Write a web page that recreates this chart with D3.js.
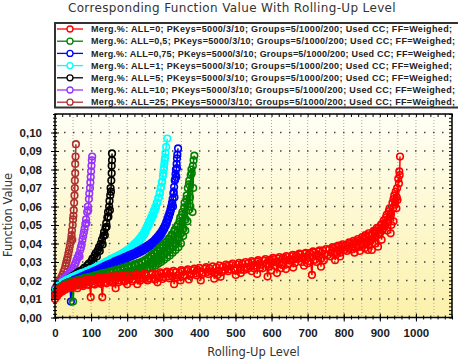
<!DOCTYPE html>
<html>
<head>
<meta charset="utf-8">
<script src="https://cdn.jsdelivr.net/npm/d3@7"></script>
<style>
  body { margin: 0; background: #fff; }
  svg { display: block; }
</style>
</head>
<body>
<div id="chart"></div>
<script>

// ---- data ----
var seriesNames = [
  "Merg.%: ALL=0; PKeys=5000/3/10; Groups=5/1000/200; Used CC; FF=Weighed;",
  "Merg.%: ALL=0,5; PKeys=5000/3/10; Groups=5/1000/200; Used CC; FF=Weighed;",
  "Merg.%: ALL=0,75; PKeys=5000/3/10; Groups=5/1000/200; Used CC; FF=Weighed;",
  "Merg.%: ALL=1; PKeys=5000/3/10; Groups=5/1000/200; Used CC; FF=Weighed;",
  "Merg.%: ALL=5; PKeys=5000/3/10; Groups=5/1000/200; Used CC; FF=Weighed;",
  "Merg.%: ALL=10; PKeys=5000/3/10; Groups=5/1000/200; Used CC; FF=Weighed;",
  "Merg.%: ALL=25; PKeys=5000/3/10; Groups=5/1000/200; Used CC; FF=Weighed;"
];
var seriesColors = ["#ff0000", "#008000", "#0000ff", "#00ffff", "#000000", "#9933ff", "#b03030"];

// ALL=0 : main band + outliers
var all0 = [[0,0.0100],[3,0.0125],[6,0.0115],[9,0.0140],[12,0.0130],[16,0.0155],[20,0.0140],[24,0.0165],
  [28,0.0150],[31,0.0172],[34,0.0167],[38,0.0158],[42,0.0180],[46,0.0162],[48,0.0185],[52,0.0170],[56,0.0188],
  [60,0.0172],[62,0.0158],[66,0.0192],[70,0.0175],[75,0.0195],[80,0.0178],[85,0.0198],[90,0.0180],[95,0.0200],
  [99,0.0110],[103,0.0205],[108,0.0185],[113,0.0207],[118,0.0188],[123,0.0210],[128,0.0190],[131,0.0110],
  [135,0.0212],[140,0.0192],[146,0.0214],[152,0.0195],[158,0.0216],[163,0.0198],[168,0.0158],[173,0.0218],
  [178,0.0200],[184,0.0220],[190,0.0202],[196,0.0222],[200,0.0180],[205,0.0205],[211,0.0224],[217,0.0206],
  [223,0.0226],[228,0.0180],[233,0.0208],[239,0.0228],[245,0.0210],[251,0.0230],[256,0.0200],[261,0.0212],
  [267,0.0232],[273,0.0214],[279,0.0234],[284,0.0190],[289,0.0216],[295,0.0237],[301,0.0219],[307,0.0240],
  [313,0.0222],[319,0.0242],[325,0.0224],[330,0.0180],[335,0.0245],[341,0.0227],[348,0.0200],[353,0.0248],
  [359,0.0230],[365,0.0251],[371,0.0206],[377,0.0235],[383,0.0255],[389,0.0238],[395,0.0258],[404,0.0200],
  [410,0.0243],[416,0.0263],[422,0.0246],[428,0.0266],[434,0.0249],[441,0.0210],[447,0.0270],[450,0.0230],
  [453,0.0253],[459,0.0220],[465,0.0274],[471,0.0257],[477,0.0278],[483,0.0260],[489,0.0282],[495,0.0264],
  [501,0.0230],[507,0.0286],[513,0.0268],[519,0.0290],[524,0.0257],[530,0.0273],[536,0.0294],[542,0.0277],
  [548,0.0298],[554,0.0281],[560,0.0302],[566,0.0285],[575,0.0266],[580,0.0307],[586,0.0290],[589,0.0221],
  [595,0.0311],[601,0.0294],[607,0.0315],[613,0.0298],[619,0.0319],[626,0.0266],[632,0.0323],[638,0.0305],
  [644,0.0327],[650,0.0309],[656,0.0331],[662,0.0313],[668,0.0335],[674,0.0317],[680,0.0340],[686,0.0322],
  [692,0.0344],[700,0.0293],[706,0.0348],[712,0.0230],[718,0.0352],[724,0.0334],[730,0.0357],[737,0.0275],
  [742,0.0362],[748,0.0344],[756,0.0338],[760,0.0368],[766,0.0350],[772,0.0374],[776,0.0310],[782,0.0380],
  [788,0.0362],[794,0.0386],[802,0.0365],[806,0.0392],[812,0.0374],[818,0.0400],[824,0.0382],[830,0.0408],
  [836,0.0390],[842,0.0416],[848,0.0398],[854,0.0425],[858,0.0374],[862,0.0434],[867,0.0365],[871,0.0444],
  [876,0.0420],[878,0.0365],[880,0.0456],[885,0.0430],[889,0.0470],[895,0.0383],[897,0.0486],[901,0.0460],
  [905,0.0505],[909,0.0480],[913,0.0510],[917,0.0540],[921,0.0515],[925,0.0575],[929,0.0545],[932,0.0500],
  [935,0.0620],[937,0.0590],[940,0.0660],[943,0.0630],[946,0.0590],[948,0.0700],[949,0.0635],[951,0.0750],
  [953,0.0725],[954,0.0790],[955,0.0770],[956,0.0870]];
var all0b = [[2,0.0118],[5,0.0135],[10,0.0150],[14,0.0142],[18,0.0162],[22,0.0150],[26,0.0172],[36,0.0178],
  [44,0.0170],[54,0.0192],[64,0.0178],[72,0.0198],[78,0.0170],[88,0.0204],[93,0.0176],[101,0.0208],[110,0.0178],
  [120,0.0214],[126,0.0182],[138,0.0218],[143,0.0185],[155,0.0222],[160,0.0188],[170,0.0224],[176,0.0190],
  [187,0.0227],[193,0.0194],[203,0.0230],[214,0.0196],[226,0.0233],[236,0.0198],[248,0.0236],[258,0.0203],
  [270,0.0240],[276,0.0205],[292,0.0244],[298,0.0208],[310,0.0248],[316,0.0212],[328,0.0252],[338,0.0216],
  [350,0.0256],[356,0.0222],[368,0.0260],[374,0.0225],[386,0.0264],[392,0.0228],[400,0.0268],[407,0.0232],
  [419,0.0272],[425,0.0235],[437,0.0276],[444,0.0240],[456,0.0281],[462,0.0245],[474,0.0286],[480,0.0250],
  [492,0.0291],[498,0.0254],[510,0.0296],[515,0.0240],[516,0.0258],[528,0.0300],[533,0.0262],[545,0.0250],
  [545,0.0305],[551,0.0266],[560,0.0235],[563,0.0310],[569,0.0270],[583,0.0316],[592,0.0274],[600,0.0255],
  [604,0.0322],[610,0.0279],[615,0.0240],[622,0.0327],[629,0.0284],[640,0.0262],[641,0.0332],[647,0.0288],
  [659,0.0338],[660,0.0270],[665,0.0294],[677,0.0345],[683,0.0300],[690,0.0280],[695,0.0350],[703,0.0306],
  [715,0.0357],[721,0.0312],[725,0.0300],[733,0.0363],[739,0.0320],[745,0.0310],[751,0.0370],[763,0.0330],
  [769,0.0380],[779,0.0340],[785,0.0388],[790,0.0330],[791,0.0350],[797,0.0396],[809,0.0360],[815,0.0406],
  [821,0.0368],[827,0.0415],[830,0.0350],[833,0.0376],[839,0.0424],[845,0.0360],[845,0.0385],[851,0.0434],
  [856,0.0395],[860,0.0445],[865,0.0405],[869,0.0455],[870,0.0390],[874,0.0412],[883,0.0468],[887,0.0440],
  [888,0.0400],[892,0.0485],[899,0.0448],[903,0.0500],[905,0.0420],[907,0.0470],[911,0.0525],[915,0.0495],
  [919,0.0555],[920,0.0470],[923,0.0530],[927,0.0590],[930,0.0455],[931,0.0560],[938,0.0520],[938,0.0640],
  [942,0.0610],[944,0.0680],[947,0.0650]];

// ALL=0,5
var all05 = [[0,0.0115],[4,0.0138],[8,0.0130],[12,0.0152],[16,0.0145],[20,0.0165],[25,0.0158],[30,0.0176],
  [35,0.0168],[40,0.0185],[45,0.0175],[50,0.0086],[54,0.0192],[58,0.0182],[63,0.0198],[68,0.0188],[73,0.0204],
  [78,0.0194],[83,0.0210],[88,0.0198],[93,0.0214],[98,0.0202],[103,0.0218],[108,0.0206],[113,0.0224],
  [118,0.0210],[123,0.0228],[128,0.0214],[133,0.0232],[138,0.0218],[143,0.0238],[148,0.0222],[153,0.0242],
  [158,0.0226],[163,0.0248],[168,0.0232],[173,0.0253],[178,0.0236],[183,0.0258],[188,0.0240],[193,0.0264],
  [198,0.0244],[203,0.0270],[208,0.0250],[213,0.0276],[218,0.0248],[223,0.0282],[228,0.0258],[233,0.0288],
  [238,0.0262],[243,0.0296],[247,0.0270],[251,0.0304],[256,0.0272],[260,0.0318],[264,0.0285],[268,0.0330],
  [272,0.0290],[276,0.0345],[280,0.0300],[284,0.0360],[288,0.0310],[292,0.0375],[296,0.0325],[300,0.0390],
  [304,0.0340],[308,0.0410],[312,0.0355],[316,0.0428],[320,0.0370],[324,0.0450],[328,0.0385],[332,0.0475],
  [336,0.0400],[340,0.0500],[344,0.0430],[347,0.0540],[350,0.0455],[353,0.0570],[356,0.0480],[359,0.0620],
  [362,0.0530],[365,0.0660],[368,0.0700],[370,0.0580],[372,0.0740],[374,0.0650],[376,0.0770],[378,0.0800],
  [381,0.0570],[382,0.0820],[384,0.0850],[386,0.0875]];
var all05b = [[2,0.0125],[6,0.0142],[10,0.0156],[14,0.0140],[18,0.0170],[23,0.0162],[28,0.0180],[33,0.0172],
  [38,0.0190],[43,0.0180],[48,0.0195],[56,0.0175],[61,0.0202],[66,0.0180],[71,0.0208],[76,0.0186],[81,0.0214],
  [86,0.0190],[91,0.0218],[96,0.0194],[101,0.0222],[106,0.0198],[111,0.0228],[116,0.0202],[121,0.0233],
  [126,0.0205],[131,0.0238],[136,0.0210],[141,0.0243],[146,0.0212],[151,0.0248],[156,0.0216],[161,0.0254],
  [166,0.0220],[171,0.0258],[176,0.0225],[181,0.0264],[186,0.0228],[191,0.0270],[196,0.0232],[201,0.0276],
  [206,0.0236],[211,0.0282],[216,0.0240],[221,0.0288],[226,0.0245],[231,0.0295],[236,0.0250],[241,0.0302],
  [245,0.0255],[249,0.0310],[254,0.0260],[258,0.0322],[262,0.0265],[266,0.0335],[270,0.0275],[274,0.0348],
  [278,0.0280],[282,0.0362],[286,0.0290],[290,0.0378],[294,0.0300],[298,0.0392],[302,0.0312],[306,0.0405],
  [310,0.0325],[314,0.0420],[318,0.0335],[322,0.0440],[326,0.0350],[330,0.0465],[334,0.0365],[338,0.0490],
  [342,0.0380],[345,0.0520],[349,0.0400],[352,0.0555],[355,0.0440],[358,0.0595],[361,0.0470],[364,0.0640],
  [367,0.0520],[371,0.0720],[375,0.0600],[379,0.0780],[383,0.0700]];

// ALL=0,75
var all075 = [[0,0.0125],[5,0.0140],[10,0.0155],[15,0.0165],[20,0.0170],[26,0.0180],[32,0.0186],[38,0.0192],
  [44,0.0086],[47,0.0198],[53,0.0205],[60,0.0210],[67,0.0216],[74,0.0222],[81,0.0228],[88,0.0234],[95,0.0240],
  [102,0.0246],[109,0.0252],[116,0.0258],[123,0.0265],[130,0.0271],[137,0.0278],[144,0.0284],[151,0.0290],
  [158,0.0296],[165,0.0303],[172,0.0309],[179,0.0315],[186,0.0320],[193,0.0326],[200,0.0332],[207,0.0338],
  [214,0.0344],[221,0.0350],[228,0.0357],[235,0.0364],[242,0.0372],[249,0.0380],[256,0.0388],[262,0.0396],
  [268,0.0405],[274,0.0415],[279,0.0425],[284,0.0436],[289,0.0448],[293,0.0458],[297,0.0470],[301,0.0485],
  [305,0.0500],[308,0.0515],[311,0.0530],[314,0.0548],[317,0.0565],[320,0.0585],[322,0.0600],[324,0.0618],
  [326,0.0640],[327,0.0600],[328,0.0670],[330,0.0705],[331,0.0650],[332,0.0740],[334,0.0775],[335,0.0800],
  [336,0.0760],[337,0.0830],[338,0.0860],[339,0.0880],[341,0.0914]];
var all075b = [[3,0.0123],[8,0.0138],[13,0.0148],[18,0.0160],[23,0.0164],[29,0.0172],[35,0.0178],[41,0.0184],
  [50,0.0190],[57,0.0196],[64,0.0202],[71,0.0208],[78,0.0214],[85,0.0220],[92,0.0226],[99,0.0232],[106,0.0238],
  [113,0.0244],[120,0.0250],[127,0.0257],[134,0.0263],[141,0.0270],[148,0.0276],[155,0.0282],[162,0.0288],
  [169,0.0295],[176,0.0301],[183,0.0306],[190,0.0312],[197,0.0318],[204,0.0324],[211,0.0330],[218,0.0336],
  [225,0.0342],[232,0.0349],[239,0.0356],[246,0.0364],[253,0.0372],[259,0.0380],[265,0.0388],[271,0.0398],
  [277,0.0408],[282,0.0418],[287,0.0430],[291,0.0440],[295,0.0452],[299,0.0466],[303,0.0480],[307,0.0496],
  [310,0.0510],[313,0.0528],[316,0.0544],[319,0.0563],[321,0.0580],[323,0.0598],[325,0.0618],[329,0.0678],
  [333,0.0748],[338,0.0808]];

// ALL=1
var all1 = [[0,0.0130],[5,0.0150],[10,0.0160],[15,0.0172],[20,0.0178],[26,0.0188],[32,0.0192],[38,0.0200],
  [44,0.0205],[50,0.0210],[57,0.0218],[64,0.0222],[71,0.0228],[78,0.0233],[85,0.0238],[92,0.0244],[99,0.0250],
  [106,0.0255],[113,0.0262],[120,0.0268],[127,0.0276],[134,0.0282],[141,0.0290],[148,0.0297],[155,0.0305],
  [162,0.0312],[169,0.0318],[176,0.0325],[183,0.0333],[190,0.0340],[197,0.0348],[204,0.0358],[210,0.0368],
  [216,0.0378],[222,0.0390],[228,0.0400],[233,0.0412],[238,0.0424],[243,0.0438],[248,0.0452],[252,0.0468],
  [256,0.0485],[260,0.0500],[264,0.0518],[268,0.0535],[272,0.0552],[276,0.0575],[280,0.0595],[284,0.0620],
  [288,0.0648],[291,0.0675],[294,0.0705],[297,0.0735],[299,0.0765],[301,0.0800],[303,0.0830],[305,0.0865],
  [308,0.0922],[311,0.0967]];
var all1b = [[3,0.0150],[8,0.0165],[13,0.0178],[18,0.0186],[23,0.0193],[29,0.0200],[35,0.0206],[41,0.0212],
  [47,0.0218],[54,0.0224],[61,0.0230],[68,0.0236],[75,0.0241],[82,0.0246],[89,0.0252],[96,0.0258],[103,0.0263],
  [110,0.0270],[117,0.0276],[124,0.0283],[131,0.0290],[138,0.0298],[145,0.0305],[152,0.0313],[159,0.0320],
  [166,0.0326],[173,0.0333],[180,0.0340],[187,0.0348],[194,0.0356],[200,0.0364],[207,0.0374],[213,0.0384],
  [219,0.0395],[225,0.0406],[231,0.0418],[236,0.0430],[241,0.0444],[246,0.0458],[250,0.0472],[254,0.0488],
  [258,0.0505],[262,0.0522],[266,0.0540],[270,0.0558],[274,0.0578],[278,0.0598],[282,0.0620],[286,0.0645],
  [290,0.0672],[293,0.0700],[296,0.0730],[300,0.0780],[302,0.0810],[304,0.0850],[306,0.0890]];

// ALL=5
var all5 = [[0,0.0140],[4,0.0155],[8,0.0165],[12,0.0172],[16,0.0180],[20,0.0186],[25,0.0192],[30,0.0198],
  [35,0.0205],[40,0.0212],[45,0.0218],[50,0.0225],[55,0.0230],[60,0.0238],[65,0.0245],[70,0.0252],[74,0.0240],
  [78,0.0262],[82,0.0270],[86,0.0258],[90,0.0282],[94,0.0292],[98,0.0275],[101,0.0305],[104,0.0318],
  [107,0.0300],[110,0.0335],[113,0.0348],[116,0.0330],[119,0.0365],[122,0.0380],[124,0.0360],[127,0.0400],
  [130,0.0420],[132,0.0395],[134,0.0440],[136,0.0462],[138,0.0445],[140,0.0485],[142,0.0510],[143,0.0490],
  [145,0.0540],[147,0.0570],[148,0.0545],[150,0.0600],[151,0.0630],[152,0.0580],[153,0.0660],[154,0.0700],
  [155,0.0680],[156,0.0740],[157,0.0780],[157,0.0820],[158,0.0850],[158,0.0887]];

// ALL=10
var all10 = [[0,0.0150],[4,0.0165],[8,0.0175],[12,0.0185],[16,0.0192],[20,0.0200],[25,0.0210],[30,0.0220],
  [34,0.0228],[38,0.0236],[42,0.0246],[46,0.0256],[50,0.0268],[54,0.0282],[57,0.0295],[60,0.0310],[63,0.0325],
  [66,0.0340],[68,0.0330],[70,0.0365],[72,0.0380],[74,0.0395],[76,0.0420],[78,0.0440],[80,0.0460],[82,0.0480],
  [84,0.0505],[86,0.0530],[87,0.0510],[89,0.0570],[91,0.0600],[92,0.0580],[94,0.0640],[95,0.0670],[97,0.0700],
  [98,0.0730],[99,0.0760],[100,0.0790],[101,0.0820],[102,0.0850],[103,0.0870]];

// ALL=25
var all25 = [[0,0.0155],[3,0.0165],[6,0.0175],[9,0.0185],[12,0.0195],[15,0.0205],[18,0.0218],[21,0.0232],
  [24,0.0248],[27,0.0262],[29,0.0280],[31,0.0295],[33,0.0310],[35,0.0325],[37,0.0345],[39,0.0365],[41,0.0385],
  [43,0.0405],[45,0.0425],[46,0.0445],[47,0.0470],[48,0.0420],[49,0.0500],[50,0.0530],[51,0.0550],[52,0.0580],
  [53,0.0620],[54,0.0660],[55,0.0700],[55,0.0740],[56,0.0780],[56,0.0830],[57,0.0870],[58,0.0937]];

function byX(a, b) {
  return a.concat(b).sort(function(p, q) { return p[0] - q[0]; });
}
var seriesData = [byX(all0, all0b), byX(all05, all05b), byX(all075, all075b), byX(all1, all1b),
  all5, all10, all25];

var xMajorTicks = d3.range(0, 1001, 100);
var yMajorTicks = d3.range(0, 11).map(function(i) { return i / 100; });

// ---- layout ----
var width = 458, height = 362,
    plot = {left: 55, right: 452, top: 114, bottom: 317.5};

var xScale = d3.scaleLinear().domain([0, 1100]).range([plot.left, plot.right]);
var yScale = d3.scaleLinear().domain([0, 0.11]).range([plot.bottom, plot.top]);

var svg = d3.select("#chart").append("svg")
    .attr("width", width)
    .attr("height", height);

var grad = svg.append("defs").append("linearGradient")
    .attr("id", "bg").attr("x1", 0).attr("y1", 0).attr("x2", 0).attr("y2", 1);
grad.append("stop").attr("offset", "0%").attr("stop-color", "#fffff6");
grad.append("stop").attr("offset", "100%").attr("stop-color", "#fbf1aa");

svg.append("rect")
    .attr("x", plot.left).attr("y", plot.top)
    .attr("width", plot.right - plot.left).attr("height", plot.bottom - plot.top)
    .attr("fill", "url(#bg)");

// grid
svg.append("g").selectAll("line")
    .data(d3.range(50, 1100, 50))
  .enter().append("line")
    .attr("x1", xScale).attr("x2", xScale)
    .attr("y1", plot.top).attr("y2", plot.bottom)
    .attr("stroke", "#a8a8a8").attr("stroke-width", 1)
    .attr("stroke-dasharray", "1,2");

svg.append("g").selectAll("line")
    .data(yMajorTicks.slice(1))
  .enter().append("line")
    .attr("x1", plot.left).attr("x2", plot.right)
    .attr("y1", yScale).attr("y2", yScale)
    .attr("stroke", "#444").attr("stroke-width", 1.5)
    .attr("stroke-dasharray", "1.5,7.5");

// series, last one underneath
var line = d3.line()
    .x(function(d) { return xScale(d[0]); })
    .y(function(d) { return yScale(d[1]); });

d3.range(seriesData.length).reverse().forEach(function(i) {
  var g = svg.append("g");
  g.append("path")
      .datum(seriesData[i])
      .attr("d", line)
      .attr("fill", "none")
      .attr("stroke", seriesColors[i])
      .attr("stroke-width", 1.5);
  g.selectAll("circle")
      .data(seriesData[i])
    .enter().append("circle")
      .attr("cx", function(d) { return xScale(d[0]); })
      .attr("cy", function(d) { return yScale(d[1]); })
      .attr("r", 3.3)
      .attr("fill", "none")
      .attr("stroke", seriesColors[i])
      .attr("stroke-width", 1.6);
});

// axes
var tickFont = "'Liberation Sans', Arial, sans-serif";
var minorY = d3.range(0, 56).map(function(i) { return i * 0.002; });

var xAxis = svg.append("g")
    .attr("transform", "translate(0," + plot.bottom + ")")
    .call(d3.axisBottom(xScale).tickValues(xMajorTicks).tickSize(4).tickPadding(7)
      .tickFormat(d3.format("d")));
xAxis.selectAll(".tick line").attr("y1", -4);
var xMinor = svg.append("g")
    .attr("transform", "translate(0," + plot.bottom + ")")
    .call(d3.axisBottom(xScale).tickValues(d3.range(0, 1101, 20)).tickSize(2).tickFormat(""));
xMinor.selectAll(".tick line").attr("y1", -2);

var yAxis = svg.append("g")
    .attr("transform", "translate(" + plot.left + ",0)")
    .call(d3.axisLeft(yScale).tickValues(yMajorTicks).tickSize(4).tickPadding(9)
      .tickFormat(function(d) { return d3.format(".2f")(d).replace(".", ","); }));
yAxis.selectAll(".tick line").attr("x1", 4);
var yMinor = svg.append("g")
    .attr("transform", "translate(" + plot.left + ",0)")
    .call(d3.axisLeft(yScale).tickValues(minorY).tickSize(2).tickFormat(""));
yMinor.selectAll(".tick line").attr("x1", 2);

var topAxis = svg.append("g")
    .attr("transform", "translate(0," + plot.top + ")")
    .call(d3.axisTop(xScale).tickValues(d3.range(0, 1101, 20)).tickSize(-3).tickFormat(""));
var rightAxis = svg.append("g")
    .attr("transform", "translate(" + plot.right + ",0)")
    .call(d3.axisRight(yScale).tickValues(minorY).tickSize(-3).tickFormat(""));

[xAxis, xMinor, yAxis, yMinor, topAxis, rightAxis].forEach(function(a) {
  a.select(".domain").remove();
  a.selectAll(".tick line").attr("stroke", "#000");
  a.selectAll("text")
      .attr("font-family", tickFont)
      .attr("font-size", 11.5)
      .attr("font-weight", "bold")
      .attr("fill", "#1a1a1a");
});

svg.append("rect")
    .attr("x", plot.left).attr("y", plot.top)
    .attr("width", plot.right - plot.left).attr("height", plot.bottom - plot.top)
    .attr("fill", "none").attr("stroke", "#000").attr("stroke-width", 1.5);

// titles
svg.append("text")
    .attr("x", 232).attr("y", 12)
    .attr("text-anchor", "middle")
    .attr("font-family", "'DejaVu Sans', sans-serif")
    .attr("font-size", 12)
    .attr("letter-spacing", 0.35)
    .attr("fill", "#333")
    .text("Corresponding Function Value With Rolling-Up Level");

svg.append("text")
    .attr("x", (plot.left + plot.right) / 2).attr("y", 356)
    .attr("text-anchor", "middle")
    .attr("font-family", "'DejaVu Sans', sans-serif")
    .attr("font-size", 11.5)
    .attr("fill", "#333")
    .text("Rolling-Up Level");

svg.append("text")
    .attr("transform", "translate(12,215) rotate(-90)")
    .attr("text-anchor", "middle")
    .attr("font-family", "'DejaVu Sans', sans-serif")
    .attr("font-size", 11.5)
    .attr("fill", "#333")
    .text("Function Value");

// legend
var legend = svg.append("g");
legend.append("rect")
    .attr("x", 55).attr("y", 23)
    .attr("width", 430).attr("height", 84.5)
    .attr("fill", "#fff")
    .attr("stroke", "#333").attr("stroke-width", 2);

var labels = [];
seriesNames.forEach(function(name, i) {
  var y = 29 + i * 12.2;
  legend.append("line")
      .attr("x1", 57).attr("x2", 83).attr("y1", y).attr("y2", y)
      .attr("stroke", seriesColors[i]).attr("stroke-width", 1.3);
  legend.append("circle")
      .attr("cx", 70).attr("cy", y).attr("r", 3)
      .attr("fill", "#fff")
      .attr("stroke", seriesColors[i]).attr("stroke-width", 1.3);
  labels.push(legend.append("text")
      .attr("x", 91).attr("y", y + 3.2)
      .attr("font-family", tickFont)
      .attr("font-size", 9)
      .attr("font-weight", "bold")
      .attr("fill", "#222")
      .text(name));
});

// stretch the legend text to the width it has in the picture
var w0 = labels[0].node().getComputedTextLength();
var spacing = (361 - w0) / (seriesNames[0].length - 1);
labels.forEach(function(t) {
  t.attr("letter-spacing", spacing);
  if (t.node().getComputedTextLength() > 364) {
    t.attr("letter-spacing", null)
     .attr("textLength", 364).attr("lengthAdjust", "spacing");
  }
});

</script>
</body>
</html>
